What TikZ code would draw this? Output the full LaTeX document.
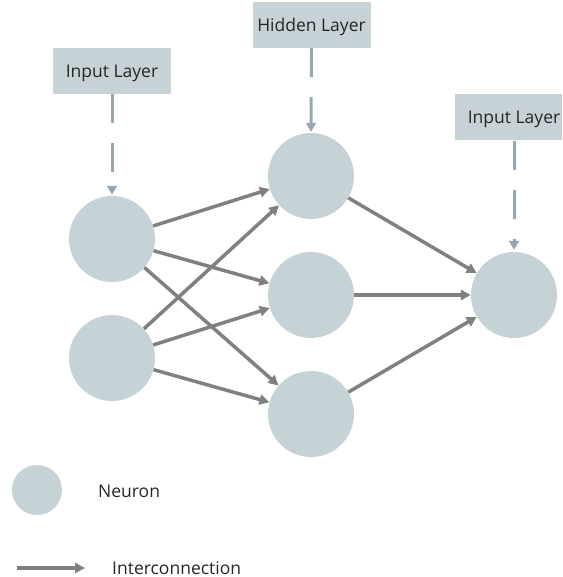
\documentclass[tikz,border=0pt]{standalone}
\usepackage{fontspec}
\setmainfont{Open Sans}
\usetikzlibrary{arrows.meta}
\definecolor{neuronfill}{HTML}{C5D2D6}
\definecolor{boxfill}{HTML}{C6D2D6}
\definecolor{linkgray}{HTML}{808080}
\definecolor{guideblue}{HTML}{97A7B0}
\begin{document}
\begin{tikzpicture}[x=1pt,y=-1pt,
  neuron/.style={circle,fill=neuronfill,draw=none,minimum size=86pt,inner sep=0pt},
  smallneuron/.style={circle,fill=neuronfill,draw=none,minimum size=50pt,inner sep=0pt},
  layerbox/.style={rectangle,fill=boxfill,draw=none,minimum width=118pt,minimum height=46pt,
    inner sep=0pt,font=\fontsize{17.5}{20}\selectfont,text=black!85,text height=12.5pt,text depth=0pt},
  link/.style={draw=linkgray,line width=3.5pt,-{Triangle[length=10pt,width=10pt]}},
  guide/.style={draw=guideblue,line width=3pt,dash pattern=on 29pt off 20pt,
    -{Triangle[length=9pt,width=10pt]}},
  legendtext/.style={font=\fontsize{17.5}{20}\selectfont,text=black!85,anchor=base west,inner sep=0pt}]
\useasboundingbox (0,0) rectangle (562,577);
\clip (0,0) rectangle (562,577);

% neurons
\node[neuron] (i1) at (112,239) {};
\node[neuron] (i2) at (112,358) {};
\node[neuron] (h1) at (311,176) {};
\node[neuron] (h2) at (311,295) {};
\node[neuron] (h3) at (311,414) {};
\node[neuron] (o1) at (514,295) {};

% layer labels
\node[layerbox] (inbox) at (112,71) {Input Layer};
\node[layerbox] (hidbox) at (311.5,25) {Hidden Layer};
\node[layerbox] (outbox) at (514,117.5) {Input Layer};

% dashed pointers
\draw[guide,shorten >=1pt] (inbox.south) -- (i1.north);
\draw[guide,shorten >=1pt] (hidbox.south) -- (h1.north);
\draw[guide,shorten >=2pt] (outbox.south) -- (o1.north);

% interconnections
\foreach \a in {i1,i2}
  \foreach \b in {h1,h2,h3}
    \draw[link] (\a) -- (\b);
\foreach \b in {h1,h2,h3}
  \draw[link] (\b) -- (o1);

% legend
\node[smallneuron] (legn) at (37,490) {};
\node[legendtext] (legntext) at (98,497) {Neuron};
\node[legendtext] (legitext) at (112,574) {Interconnection};
\coordinate (la) at (17,568);
\coordinate (lb) at (85,568);
\draw[link] (la) -- (lb);
\end{tikzpicture}
\end{document}
